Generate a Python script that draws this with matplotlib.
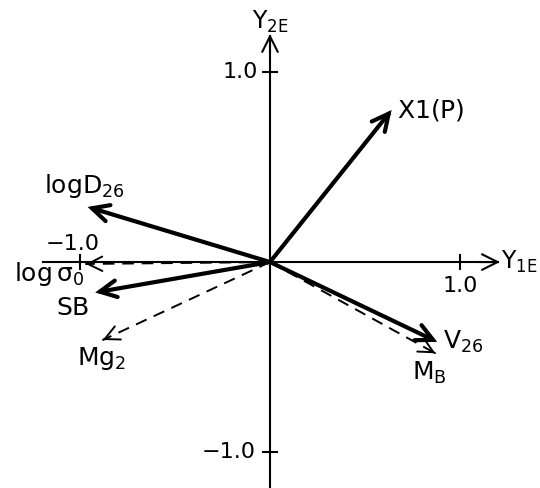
import numpy as np
import matplotlib
matplotlib.use("Agg")
import matplotlib.pyplot as plt

plt.rcParams['font.family'] = ['DejaVu Sans']
plt.rcParams['mathtext.fontset'] = 'dejavusans'

# loadings on the two discriminant axes
names = [r'$\mathregular{X1(P)}$', r'$\mathregular{logD_{26}}$',
         r'$\mathregular{log\,\sigma_{0}}$', r'$\mathregular{SB}$',
         r'$\mathregular{Mg_{2}}$', r'$\mathregular{V_{26}}$',
         r'$\mathregular{M_{B}}$']
y1e = [0.64, -0.96, -0.97, -0.92, -0.88, 0.88, 0.87]
y2e = [0.80, 0.29, -0.01, -0.16, -0.41, -0.42, -0.48]
dashed = [False, False, True, False, True, False, True]

# label offsets (points) from the arrow tips
label_off = [(4, 0), (-2, 15), (-1, -7), (-16, -11), (-1, -13), (4, 0), (-4, -14)]
label_ha = ['left', 'center', 'right', 'center', 'center', 'left', 'center']

fig = plt.figure(figsize=(5.4, 4.88), dpi=100)
ax = fig.add_axes([0, 0, 1, 1])
ax.set_xlim(-1.421, 1.421)
ax.set_ylim(-1.189, 1.379)

for s in ['top', 'right']:
    ax.spines[s].set_visible(False)
ax.spines['left'].set_position(('data', 0))
ax.spines['bottom'].set_position(('data', 0))
ax.spines['left'].set_bounds(-1.19, 1.19)
ax.spines['bottom'].set_bounds(-1.195, 1.2)
for s in ['left', 'bottom']:
    ax.spines[s].set_linewidth(1.5)
ax.set_xticks([-1, 1])
ax.set_yticks([-1, 1])
ax.tick_params(direction='inout', length=12, width=1.5,
               labelbottom=False, labelleft=False)

# arrow heads on the axes
ax.annotate('', xy=(1.21, 0), xytext=(1.1, 0),
            arrowprops=dict(arrowstyle='->', lw=1.5, mutation_scale=28,
                            shrinkA=0, shrinkB=0))
ax.annotate('', xy=(0, 1.2), xytext=(0, 1.1),
            arrowprops=dict(arrowstyle='->', lw=1.5, mutation_scale=28,
                            shrinkA=0, shrinkB=0))

fs = 16
lfs = 18
ax.text(-0.095, 1.263, r'$\mathregular{Y_{2E}}$', fontsize=17, ha='left', va='center')
ax.text(1.215, 0.0, r'$\mathregular{Y_{1E}}$', fontsize=17, ha='left', va='center')
ax.text(-0.065, 1.0, '1.0', fontsize=fs, ha='right', va='center')
ax.text(-0.075, -1.0, '\u22121.0', fontsize=fs, ha='right', va='center')
ax.text(1.0, -0.126, '1.0', fontsize=fs, ha='center', va='center')
ax.text(-1.037, 0.095, '\u22121.0', fontsize=fs, ha='center', va='center')

for name, x, y, d, off, ha in zip(names, y1e, y2e, dashed, label_off, label_ha):
    tip = np.array([x, y])
    if d:
        ax.plot([0, x], [0, y], color='black', lw=1.4, ls=(0, (6, 4)))
        u = tip / np.hypot(x, y)
        ax.annotate('', xy=tip, xytext=tip - 0.002 * u,
                    arrowprops=dict(arrowstyle='->', lw=1.4, mutation_scale=26,
                                    shrinkA=0, shrinkB=0))
    else:
        ax.annotate('', xy=tip, xytext=(0, 0),
                    arrowprops=dict(arrowstyle='->', lw=3.0, mutation_scale=30,
                                    shrinkA=0, shrinkB=0, joinstyle='miter'))
    ax.annotate(name, xy=tip, xytext=off, textcoords='offset points',
                fontsize=lfs, ha=ha, va='center')

fig.savefig('out.png', dpi=100)
